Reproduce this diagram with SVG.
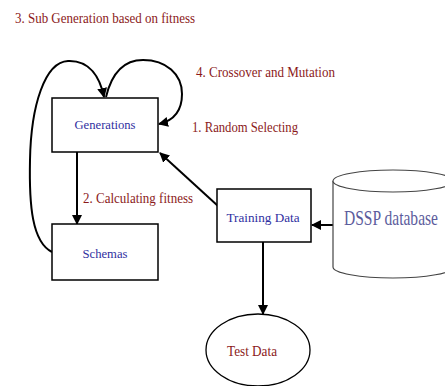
<svg xmlns="http://www.w3.org/2000/svg" width="445" height="386" viewBox="0 0 445 386">
  <style>
    .box { fill: #ffffff; stroke: #000000; stroke-width: 1.5; }
    .db { fill: #ffffff; stroke: #444444; stroke-width: 1.2; }
    .edge { fill: none; stroke: #000000; stroke-width: 2; }
    .step { font-size: 14px; fill: #8b1a1a; }
    .label { font-size: 13px; fill: #2f2f9f; text-anchor: middle; }
  </style>
  <defs>
    <marker id="arrow" viewBox="0 0 10 10" refX="9" refY="5" markerWidth="5" markerHeight="5" orient="auto" markerUnits="strokeWidth">
      <path d="M0,0 L10,5 L0,10 Z" fill="#000000"/>
    </marker>
  </defs>
  <rect width="445" height="386" fill="#ffffff"/>

  <g font-family="'Liberation Serif', 'DejaVu Serif', serif">
    <!-- step annotations -->
    <text class="step" x="15" y="23" textLength="180" lengthAdjust="spacingAndGlyphs">3. Sub Generation based on fitness</text>
    <text class="step" x="196" y="77" textLength="139" lengthAdjust="spacingAndGlyphs">4. Crossover and Mutation</text>
    <text class="step" x="192" y="132" textLength="106" lengthAdjust="spacingAndGlyphs">1. Random Selecting</text>
    <text class="step" x="83" y="203" textLength="110" lengthAdjust="spacingAndGlyphs">2. Calculating fitness</text>

    <g id="connectors">
      <line class="edge" x1="77" y1="152" x2="77" y2="224" marker-end="url(#arrow)"/>
      <line class="edge" x1="218" y1="206" x2="160" y2="153" marker-end="url(#arrow)"/>
      <line class="edge" x1="333" y1="225" x2="312" y2="225" marker-end="url(#arrow)"/>
      <line class="edge" x1="263" y1="242" x2="263" y2="314" marker-end="url(#arrow)"/>
      <path class="edge" d="M52,252 C32,242 29,205 30,160 C31,105 45,62 68,61 C90,60 100,78 104,97" marker-end="url(#arrow)"/>
      <path class="edge" d="M106,97 C112,72 125,60 143,60 C166,60 182,74 182,94 C182,112 172,121 159,124" marker-end="url(#arrow)"/>
    </g>

    <g id="generations">
      <rect class="box" x="52" y="98" width="106" height="54"/>
      <text class="label" x="105" y="129" textLength="61" lengthAdjust="spacingAndGlyphs">Generations</text>
    </g>

    <g id="schemas">
      <rect class="box" x="52" y="224" width="106" height="56"/>
      <text class="label" x="105" y="258" textLength="45" lengthAdjust="spacingAndGlyphs">Schemas</text>
    </g>

    <g id="training-data">
      <rect class="box" x="217" y="189" width="94" height="53"/>
      <text class="label" x="263" y="222" textLength="73" lengthAdjust="spacingAndGlyphs">Training Data</text>
    </g>

    <g id="dssp-database">
      <path class="db" d="M333,181 L333,267 A60,11 0 0 0 453,267 L453,181"/>
      <ellipse class="db" cx="393" cy="181" rx="60" ry="11"/>
      <text transform="translate(344,225) scale(1,1.3)" x="0" y="0" font-size="16" fill="#5c5c9c" textLength="94" lengthAdjust="spacingAndGlyphs">DSSP database</text>
    </g>

    <g id="test-data">
      <ellipse cx="258" cy="350" rx="52" ry="36" fill="#ffffff" stroke="#000000" stroke-width="1.3"/>
      <text x="252" y="356" font-size="14" fill="#8b1a1a" text-anchor="middle" textLength="50" lengthAdjust="spacingAndGlyphs">Test Data</text>
    </g>
  </g>
</svg>
